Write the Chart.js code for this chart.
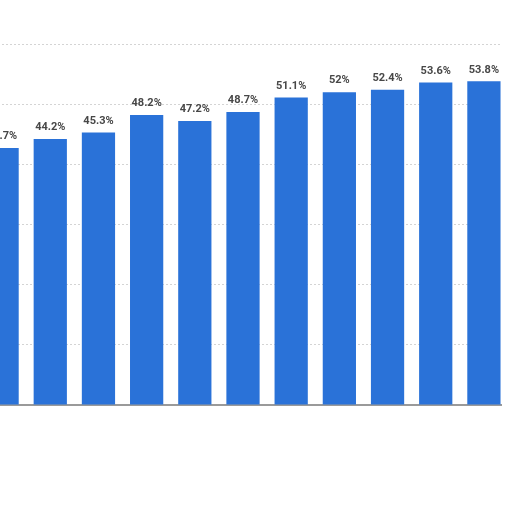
<!DOCTYPE html>
<html>
<head>
<meta charset="utf-8">
<script src="https://cdn.jsdelivr.net/npm/chart.js@4/dist/chart.umd.min.js"></script>
<style>
  html, body { margin: 0; padding: 0; background: #fff; overflow: hidden; }
  #clip { position: absolute; left: 0; top: 0; width: 502px; height: 512px; overflow: hidden; }
  #wrap { position: absolute; left: -22px; top: 0; width: 530px; height: 512px; }
</style>
</head>
<body>
<div id="clip"><div id="wrap"><canvas id="chart-share"></canvas></div></div>
<script>
// 값 데이터
const CATEGORIES = ['1', '2', '3', '4', '5', '6', '7', '8', '9', '10', '11'];
const SHARE_VALUES = [42.7, 44.2, 45.3, 48.2, 47.2, 48.7, 51.1, 52, 52.4, 53.6, 53.8];
const Y_TICKS = [0, 10, 20, 30, 40, 50, 60];

const COLORS = {
  bar: '#2a72d8',
  grid: '#d4d4d4',
  base: '#9a9a9a',
  label: '#474747',
};

/** 막대 위 값 라벨 */
const valueLabels = {
  id: 'valueLabels',
  afterDatasetsDraw(chart) {
    const { ctx } = chart;
    const meta = chart.getDatasetMeta(0);
    ctx.save();
    ctx.font = 'bold 11px Roboto, "DejaVu Sans", sans-serif';
    ctx.fillStyle = COLORS.label;
    ctx.textAlign = 'center';
    ctx.textBaseline = 'bottom';
    meta.data.forEach((bar, i) => {
      ctx.fillText(`${SHARE_VALUES[i]}%`, bar.x, bar.y - 6);
    });
    ctx.restore();
  },
};

new Chart(document.getElementById('chart-share'), {
  type: 'bar',
  data: {
    labels: CATEGORIES,
    datasets: [{
      data: SHARE_VALUES,
      backgroundColor: COLORS.bar,
      categoryPercentage: 0.69,
      barPercentage: 1,
    }],
  },
  options: {
    responsive: true,
    maintainAspectRatio: false,
    animation: false,
    layout: { padding: { top: 44, bottom: 99, left: 0, right: 0 } },
    plugins: {
      legend: { display: false },
      tooltip: { enabled: false },
    },
    scales: {
      x: {
        grid: { display: false },
        ticks: { display: false },
        border: { display: true, color: COLORS.base, width: 2 },
      },
      y: {
        min: 0,
        max: 60,
        afterBuildTicks: (axis) => { axis.ticks = Y_TICKS.map((v) => ({ value: v })); },
        ticks: { display: false },
        grid: { color: COLORS.grid, drawTicks: false, lineWidth: 1 },
        border: { display: false, dash: [2, 2] },
      },
    },
  },
  plugins: [valueLabels],
});
</script>
</body>
</html>
